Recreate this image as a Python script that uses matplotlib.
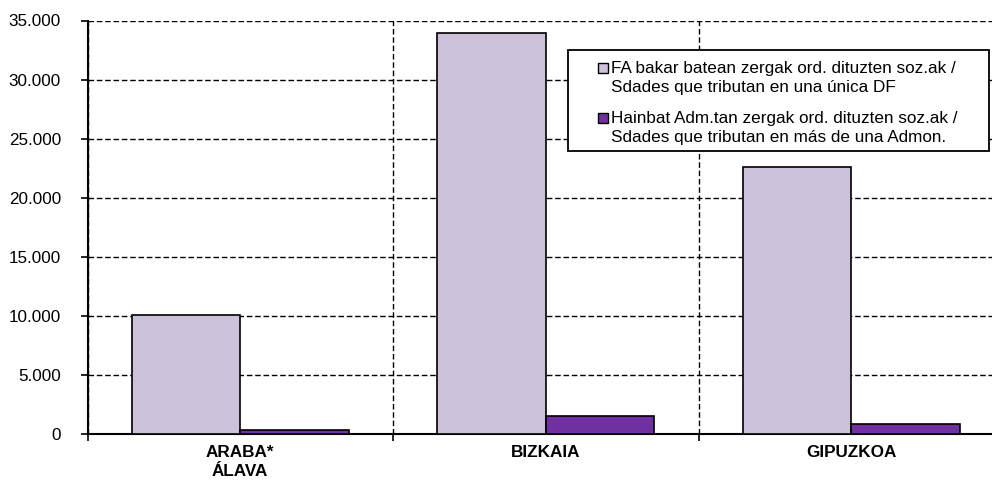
import numpy as np
import matplotlib.pyplot as plt
from matplotlib.patches import Patch, Rectangle
from matplotlib.legend_handler import HandlerPatch

plt.rcParams['font.family'] = ['Liberation Sans', 'DejaVu Sans']

# data
territorios = ["ARABA*\nÁLAVA", "BIZKAIA", "GIPUZKOA"]
una_df = [10050, 33900, 22600]
varias_adm = [350, 1550, 870]
serie_labels = ["FA bakar batean zergak ord. dituzten soz.ak /\nSdades que tributan en una única DF",
                "Hainbat Adm.tan zergak ord. dituzten soz.ak /\nSdades que tributan en más de una Admon."]
yticks = [0, 5000, 10000, 15000, 20000, 25000, 30000, 35000]

c_light = "#CCC1DA"
c_dark = "#7030A0"

W, H = 992, 483
fig = plt.figure(figsize=(W/100, H/100), dpi=100)
ax = fig.add_axes([87.5/W, 49/H, 916.5/W, 413.5/H])

x = np.arange(len(territorios))
w = 0.355
ax.bar(x - w/2, una_df, w, color=c_light, edgecolor="black", linewidth=1.2, zorder=3)
ax.bar(x + w/2, varias_adm, w, color=c_dark, edgecolor="black", linewidth=1.2, zorder=3)

ax.set_xlim(-0.5, 2.5)
ax.set_ylim(0, 35000)
ax.set_yticks(yticks)
ax.set_yticklabels(["0" if v == 0 else f"{v:,}".replace(",", ".") for v in yticks], fontsize=12.3)

ax.set_xticks(x)
ax.set_xticklabels(territorios, fontsize=12.3, fontweight="bold", linespacing=1.35)
ax.tick_params(axis="x", length=0, pad=8)
ax.set_xticks([-0.5, 0.5, 1.5, 2.5], minor=True)
ax.tick_params(axis="x", which="minor", length=5, width=1.2, direction="out")
ax.tick_params(axis="y", length=5, width=1.2, direction="out", pad=14)

ax.grid(axis="y", which="major", linestyle=(0, (4, 2)), color="black", linewidth=1, zorder=0)
ax.grid(axis="x", which="minor", linestyle=(0, (4, 2)), color="black", linewidth=1, zorder=0)
ax.set_axisbelow(True)

for s in ["top", "right"]:
    ax.spines[s].set_visible(False)
ax.spines["left"].set_linewidth(1.5)
ax.spines["bottom"].set_linewidth(1.5)

# legend box drawn separately (wide side padding like the original)
box = Rectangle((568/W, 1 - 151/H), (989 - 568)/W, 101/H, transform=fig.transFigure,
                facecolor="white", edgecolor="black", linewidth=1.3, zorder=5)
fig.patches.append(box)


# put the small square next to the first line of each label
def top_square(legend, orig_handle, xdescent, ydescent, width, height, fontsize):
    return Rectangle((-xdescent, -ydescent + 7.2), width, height)


handles = [Patch(facecolor=c_light, edgecolor="black", linewidth=1),
           Patch(facecolor=c_dark, edgecolor="black", linewidth=1)]
leg = fig.legend(handles, serie_labels, loc="upper left",
                 bbox_to_anchor=(598/W, 1 - 61/H), fontsize=12.3,
                 frameon=False, borderpad=0, borderaxespad=0,
                 handlelength=0.6, handleheight=0.55, handletextpad=0.15,
                 labelspacing=0.95,
                 handler_map={Patch: HandlerPatch(patch_func=top_square)})
leg.set_zorder(6)
for t in leg.get_texts():
    t.set_linespacing(1.31)

fig.savefig("out.png", dpi=100)
